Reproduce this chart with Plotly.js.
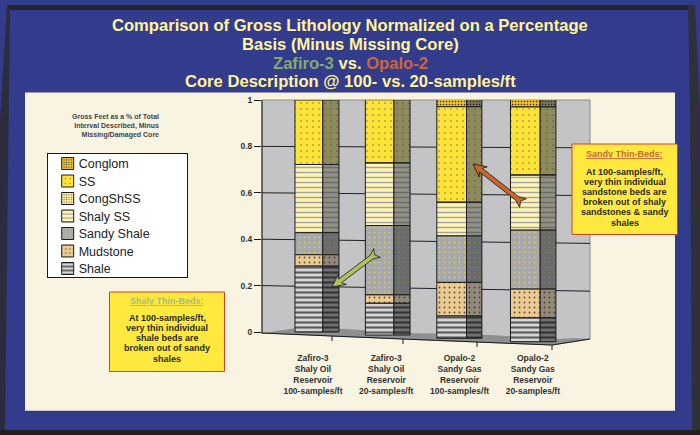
<!DOCTYPE html>
<html>
<head>
<meta charset="utf-8">
<script src="https://cdn.plot.ly/plotly-3.0.1.min.js"></script>
<style>html,body{margin:0;padding:0;background:#333c8c}#chart{width:700px;height:435px}</style>
</head>
<body>
<div id="chart"></div>
<script>
// ---- data ----
var categories = [
  "Zafiro-3<br>Shaly Oil<br>Reservoir<br>100-samples/ft",
  "Zafiro-3<br>Shaly Oil<br>Reservoir<br>20-samples/ft",
  "Opalo-2<br>Sandy Gas<br>Reservoir<br>100-samples/ft",
  "Opalo-2<br>Sandy Gas<br>Reservoir<br>20-samples/ft"
];
var shale      = [0.284, 0.137, 0.096, 0.103];
var mudstone   = [0.049, 0.036, 0.145, 0.124];
var sandyShale = [0.095, 0.299, 0.200, 0.254];
var shalySS    = [0.294, 0.269, 0.145, 0.237];
var congShSS   = [0, 0, 0, 0];
var ss         = [0.278, 0.273, 0.412, 0.294];
var conglom    = [0, 0, 0.032, 0.032];
// apparent foot of each column on the sloping chart floor
var floorLevel = [0, -0.013, -0.027, -0.042];
var yTicks = [0, 0.2, 0.4, 0.6, 0.8, 1];
var shalyNote = ["At 100-samples/ft,","very thin individual","shale beds are","broken out of sandy","shales"];
var sandyNote = ["At 100-samples/ft,","very thin individual","sandstone beds are","broken out of shaly","sandstones &amp; sandy","shales"];

// ---- geometry of the drawn columns (category units) ----
var frontOffset = [-0.245, -0.285, -0.31, -0.305];
var frontWidth  = [0.38, 0.39, 0.405, 0.405];
var sideWidth   = [0.22, 0.22, 0.21, 0.215];
var sideOffset  = frontOffset.map(function(o,i){return o+frontWidth[i];});

function px(x){return x/700;}
function py(y){return 1-y/435;}

var stackOrder = [
 {name:"Shale", v:shale, c:"#d6d6d6", fg:"#5a5a5a", sh:"-", size:5, sol:0.42, side:"#707070", sfg:"#333"},
 {name:"Mudstone", v:mudstone, c:"#eccb92", fg:"#5a4e3a", sh:".", size:5, sol:0.1, side:"#93897a", sfg:"#4a4234"},
 {name:"Sandy Shale", v:sandyShale, c:"#a9a9aa", fg:"#e8dc50", sh:".", size:5, sol:0.07, side:"#6b6b6d", sfg:"#8a8650"},
 {name:"Shaly SS", v:shalySS, c:"#fff5ae", fg:"#a2a2ae", sh:"-", size:5, sol:0.28, side:"#909084", sfg:"#6a6a68"},
 {name:"CongShSS", v:congShSS, c:"#fdeb9a", fg:"#555", sh:".", size:3, sol:0.2, side:"#8a8560", sfg:"#444"},
 {name:"SS", v:ss, c:"#ffe437", fg:"#77775a", sh:".", size:6, sol:0.06, side:"#8d8a5c", sfg:"#5c5a40"},
 {name:"Conglom", v:conglom, c:"#eec12e", fg:"#222", sh:".", size:3, sol:0.2, side:"#7c7355", sfg:"#222"}
];

var cum = floorLevel.slice();
var built = stackOrder.map(function(s){
  var base = cum.slice();
  cum = cum.map(function(b,i){return b+s.v[i];});
  return {s:s, base:base};
});

var traces = [];
// reversed so the legend reads Conglom first, as in the reference
built.slice().reverse().forEach(function(b){
  var s=b.s;
  traces.push({type:"bar",name:s.name,x:categories,y:s.v,base:b.base,width:frontWidth,offset:frontOffset,
    marker:{color:s.c,line:{color:"#1c1c1c",width:1},pattern:{shape:s.sh,fgcolor:s.fg,bgcolor:s.c,size:s.size,solidity:s.sol}},
    hoverinfo:"name+y"});
  traces.push({type:"bar",name:s.name+" (side)",showlegend:false,x:categories,y:s.v,base:b.base,width:sideWidth,offset:sideOffset,
    marker:{color:s.side,line:{color:"#1c1c1c",width:1},pattern:{shape:s.sh,fgcolor:s.sfg,bgcolor:s.side,size:s.size,solidity:s.sol}},
    hoverinfo:"skip"});
});

function rect(x0,y0,x1,y1,fill,line,lw,layer){
  return {type:"rect",xref:"paper",yref:"paper",x0:px(x0),x1:px(x1),y0:py(y0),y1:py(y1),
    fillcolor:fill,line:{color:line||fill,width:lw===undefined?0:lw},layer:layer||"below"};
}
function poly(pts,fill,line,lw,layer,open){
  var d=pts.map(function(p,i){return (i?"L":"M")+px(p[0])+","+py(p[1]);}).join(" ")+(open?"":" Z");
  return {type:"path",xref:"paper",yref:"paper",path:d,fillcolor:fill||"rgba(0,0,0,0)",line:{color:line||"rgba(0,0,0,0)",width:lw||0},layer:layer||"below"};
}
function arrow(x0,y0,x1,y1,fill){
  var dx=x1-x0,dy=y1-y0,L=Math.sqrt(dx*dx+dy*dy),ux=dx/L,uy=dy/L,nx=-uy,ny=ux;
  var sw=2.3,hw=6.5,hl=13,notch=3;
  function P(a,b){return [x0+ux*a+nx*b,y0+uy*a+ny*b];}
  return poly([P(notch,0),P(0,hw-1),P(L*0.12,sw),P(L-hl+3,sw),P(L-hl,hw),P(L,0),P(L-hl,-hw),P(L-hl+3,-sw),P(L*0.12,-sw),P(0,-hw+1)],fill,"#1a1a1a",0.8,"above");
}

var shapes = [
  rect(7,5,695,10,"#25252c"),
  poly([[7,5],[10,10],[5,430],[5,435],[0,435],[0,120]],"#2c2d3c"),
  poly([[688,5],[695,5],[700,110],[700,435],[692,435],[690,110]],"#2f303c"),
  rect(0,430,700,435,"#202024"),
  rect(25,92.5,675,410.7,"#f8f4e1"),
  // chart wall, floor
  poly([[262,100],[590,100],[590,339],[552,345],[477,342],[403,339],[332,336],[262,333]],"#c4c4c6","#8c8c8c",1),
  poly([[263,333],[297,328],[345,329],[410,333],[490,335],[560,339],[573,338],[590,339],[552,345],[477,342],[403,339],[332,336]],"#8f8f90"),
  poly([[262,333],[332,336],[403,339],[477,342],[552,345],[590,339]],null,"#1a1a1a",1,"below",true),
  poly([[262,100],[262,334]],null,"#1a1a1a",1,"below",true),
  poly([[332,336],[332,341]],null,"#1a1a1a",1,"below",true),
  poly([[403,339],[403,344]],null,"#1a1a1a",1,"below",true),
  poly([[477,342],[477,347]],null,"#1a1a1a",1,"below",true),
  poly([[552,345],[552,350]],null,"#1a1a1a",1,"below",true),
  // arrows
  arrow(377,253,332,287,"#b4c060"),
  arrow(523,203,473,164,"#c8652c"),
  // call-out boxes
  rect(109.5,292,224.5,371.5,"#ffe93f","#c8472c",1,"above"),
  rect(572,144,677.5,234.5,"#ffe93f","#c8472c",1,"above")
];
// gridlines, fanning slightly with the chart's perspective
yTicks.slice(1,5).forEach(function(t){
  shapes.push({type:"line",layer:"below",xref:"paper",yref:"y",x0:px(262),x1:px(590),y0:t,y1:t-(1-t)*0.03,line:{color:"#1f1f1f",width:1}});
});

var sans = "Liberation Sans, Arial, sans-serif";
function note(x,y,text,size,color,extra){
  var a={xref:"paper",yref:"paper",x:px(x),y:py(y),text:text,showarrow:false,xanchor:"center",yanchor:"middle",
    font:{family:sans,size:size,color:color}};
  for(var k in extra){a[k]=extra[k];}
  return a;
}
var tc="#fff39c";
var annotations = [
  note(350,26,"<b>Comparison of Gross Lithology Normalized on a Percentage</b>",16.6,tc),
  note(350,45,"<b>Basis (Minus Missing Core)</b>",16.6,tc),
  note(350,63,"<b><span style='color:#86a86e'>Zafiro-3</span> vs. <span style='color:#c8683a'>Opalo-2</span></b>",16.6,tc),
  note(350,82,"<b>Core Description @ 100- vs. 20-samples/ft</b>",16.6,tc),
  note(161,126,"<b>Gross Feet as a % of Total<br>Interval Described, Minus<br>Missing/Damaged Core</b>",7,"#444",{xanchor:"right",align:"right"}),
  note(167,301,"<b><u>Shaly Thin-Beds:</u></b>",9,"#a9bb78"),
  note(624.5,154,"<b><u>Sandy Thin-Beds:</u></b>",9,"#c8683a")
];
shalyNote.forEach(function(line,i){annotations.push(note(167,317.7+10.25*i,"<b>"+line+"</b>",9,"#2a2a2a"));});
sandyNote.forEach(function(line,i){annotations.push(note(624.5,172+10.1*i,"<b>"+line+"</b>",9,"#2a2a2a"));});

var layout = {
  width:700,height:435,margin:{l:0,r:0,t:0,b:0},
  paper_bgcolor:"#333c8c",plot_bgcolor:"rgba(0,0,0,0)",
  barmode:"overlay",
  font:{family:sans,color:"#333"},
  xaxis:{domain:[px(262),px(590)],range:[-0.695,3.78],type:"category",categoryorder:"array",categoryarray:categories,
    showgrid:false,zeroline:false,showline:false,ticks:"",fixedrange:true,
    tickfont:{family:sans,size:8.5,color:"#333",weight:"bold"},ticklabelstandoff:5},
  yaxis:{domain:[py(346),py(100)],range:[-0.0603,1],tickmode:"array",tickvals:yTicks,ticktext:yTicks.map(String),
    showgrid:false,zeroline:false,showline:false,ticks:"outside",ticklen:7,tickcolor:"#1a1a1a",fixedrange:true,
    tickfont:{family:sans,size:8.5,color:"#333",weight:"bold"}},
  legend:{x:px(46.7),y:py(153),xanchor:"left",yanchor:"top",bgcolor:"#ffffff",bordercolor:"#1a1a1a",borderwidth:1,
    font:{family:sans,size:12.5,color:"#222"},traceorder:"normal",tracegroupgap:0,entrywidth:112,entrywidthmode:"pixels"},
  showlegend:true,shapes:shapes,annotations:annotations
};
Plotly.newPlot("chart",traces,layout,{displayModeBar:false}).then(function(gd){
  // tighten the legend rows to the reference's 17.5px pitch, which the library's layout does not allow
  var rows=gd.querySelectorAll(".legend .traces");
  rows.forEach(function(r,i){
    r.setAttribute("transform","translate(1,"+(10.5+17.5*i)+")");
    var t=r.querySelector(".legendtext");
    if(t){t.setAttribute("x",31);t.querySelectorAll("tspan").forEach(function(s){if(s.getAttribute("x"))s.setAttribute("x",31);});}
  });
  gd.querySelectorAll(".legend rect.bg").forEach(function(b){b.setAttribute("height",124);b.setAttribute("width",140);});
});
</script>
</body>
</html>
